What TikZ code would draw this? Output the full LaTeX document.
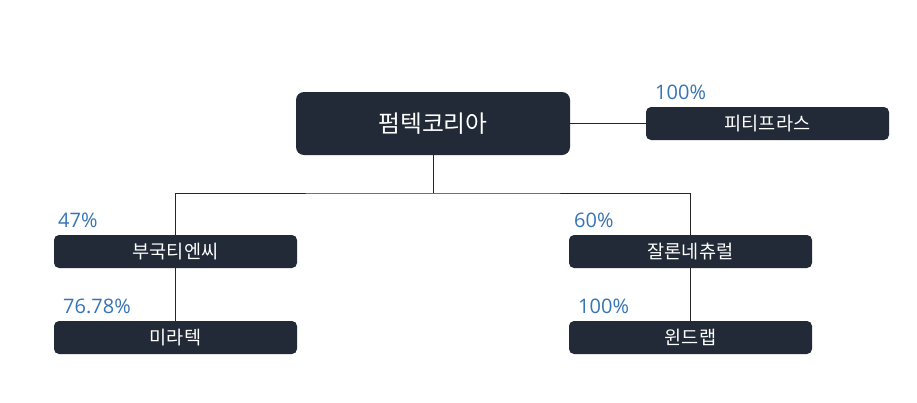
\documentclass[tikz,border=0pt]{standalone}
\usepackage{fontspec}
\setmainfont{Noto Sans CJK KR}
\newfontfamily\pctfont{Open Sans}
\definecolor{boxnavy}{HTML}{212A36}
\definecolor{pctblue}{HTML}{3674B4}

\begin{document}
\begin{tikzpicture}[x=1pt,y=-1pt,
  topbox/.style={fill=boxnavy,text=white,rounded corners=8pt,minimum width=274pt,minimum height=63pt,font=\fontsize{23.8}{28}\selectfont},
  subbox/.style={fill=boxnavy,text=white,rounded corners=5pt,minimum width=243pt,minimum height=33pt,font=\fontsize{18.6}{22}\selectfont},
  pct/.style={anchor=west,text=pctblue,inner sep=0pt,font=\pctfont\fontsize{20}{24}\selectfont},
  link/.style={draw=black!85,line width=0.9pt}]
\useasboundingbox (0,0) rectangle (917,402);
% boxes
\node (pumtech) at (433,123.5) [topbox]{펌텍코리아};
\node (ptp) at (767.5,123.5) [subbox]{피티프라스};
\node (bukuk) at (175.5,251.5) [subbox]{부국티엔씨};
\node (mira) at (175.5,337.5) [subbox]{미라텍};
\node (jalon) at (690.5,251.5) [subbox]{잘론네츄럴};
\node (wind) at (690.5,337.5) [subbox]{윈드랩};
% shares
\node (pctptp) at (655,92.5) [pct]{100\%};
\node (pctbukuk) at (58,220.5) [pct]{47\%};
\node (pctmira) at (63,306.5) [pct]{76.78\%};
\node (pctjalon) at (574,220.5) [pct]{60\%};
\node (pctwind) at (578,306.5) [pct]{100\%};
% links
\coordinate (split) at (433,193);
\draw[link] (pumtech.east) -- (ptp.west);
\draw[link] (pumtech.south) -- (split);
\draw[link] (bukuk.north) |- (split) -| (jalon.north);
\draw[link] (bukuk.south) -- (mira.north);
\draw[link] (jalon.south) -- (wind.north);
\end{tikzpicture}
\end{document}
